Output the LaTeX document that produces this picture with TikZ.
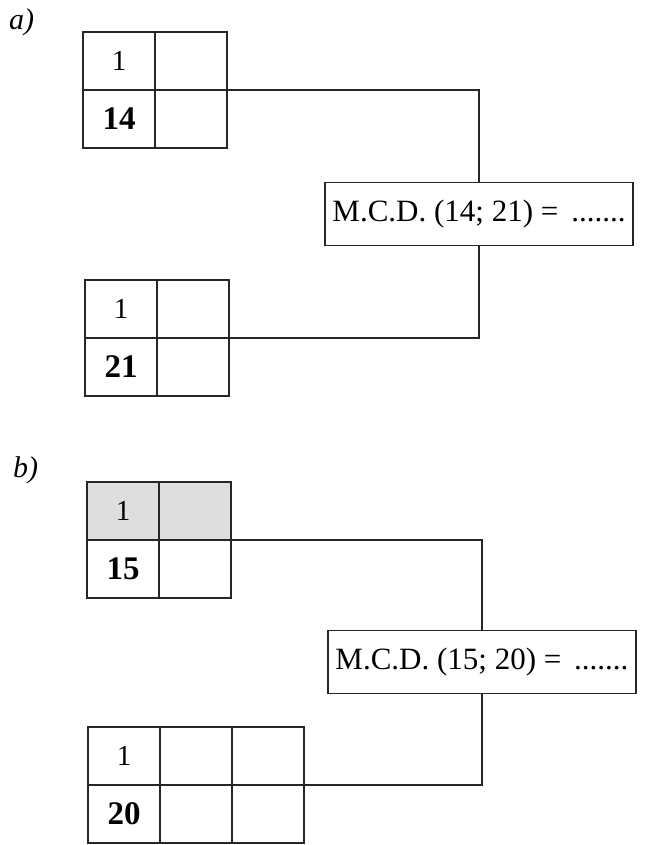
\documentclass[tikz,border=0pt]{standalone}
\usepackage{fontspec}
\setmainfont{Liberation Serif}
\begin{document}
\begin{tikzpicture}[x=1pt,y=-1pt,
  ink/.style={draw=black!85,line width=1.5pt},
  cell/.style={ink,minimum width=72pt,minimum height=58pt,inner sep=0pt,outer sep=0pt,font=\fontsize{29}{29}\selectfont},
  shaded/.style={cell,fill=black!13},
  num/.style={font=\fontsize{33}{33}\selectfont\bfseries},
  result/.style={ink,fill=white,minimum width=308pt,minimum height=63pt,inner sep=0pt,font=\fontsize{31}{31}\selectfont},
  tag/.style={anchor=west,inner sep=0pt,font=\fontsize{30}{30}\selectfont\itshape},
  link/.style={ink,line cap=rect}]
\useasboundingbox (0,0) rectangle (668,845);
\fill[white] (0,0) rectangle (668,845);

% part a)
\node[tag] (la) at (9,22) {a)};
\node[cell] (a11) at (119,61) {1};
\node[cell] (a12) at (191,61) {};
\node[cell,num] (a21) at (119,119) {14};
\node[cell] (a22) at (191,119) {};

\node[result] (ra) at (479,214) {M.C.D. (14; 21) = \,.......};

\node[cell] (c11) at (121,309) {1};
\node[cell] (c12) at (193,309) {};
\node[cell,num] (c21) at (121,367) {21};
\node[cell] (c22) at (193,367) {};

\draw[link] (a12.south east) -| (ra.north);
\draw[link] (ra.south) |- (c12.south east);

% part b)
\node[tag] (lb) at (13,470) {b)};
\node[shaded] (b11) at (123,511) {1};
\node[shaded] (b12) at (195,511) {};
\node[cell,num] (b21) at (123,569) {15};
\node[cell] (b22) at (195,569) {};

\node[result] (rb) at (482,662) {M.C.D. (15; 20) = \,.......};

\node[cell] (d11) at (124,756) {1};
\node[cell] (d12) at (196,756) {};
\node[cell] (d13) at (268,756) {};
\node[cell,num] (d21) at (124,814) {20};
\node[cell] (d22) at (196,814) {};
\node[cell] (d23) at (268,814) {};

\draw[link] (b12.south east) -| (rb.north);
\draw[link] (rb.south) |- (d13.south east);
\end{tikzpicture}
\end{document}
